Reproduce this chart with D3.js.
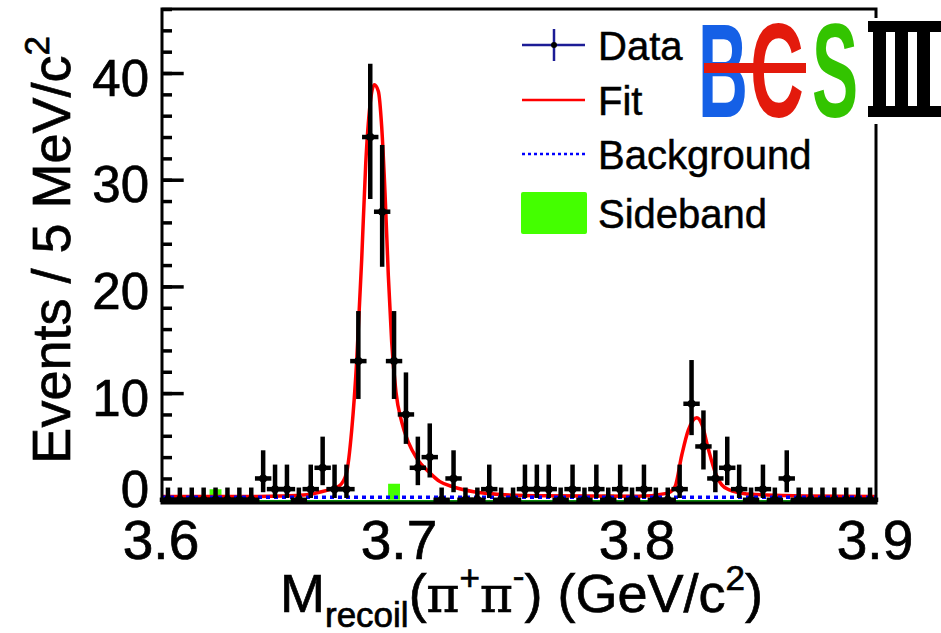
<!DOCTYPE html>
<html><head><meta charset="utf-8">
<script src="https://cdn.jsdelivr.net/npm/d3@7"></script>
<style>
body{margin:0;background:#fff}
svg{display:block}
text{font-family:"Liberation Sans",Arial,Helvetica,sans-serif;fill:#000}
.heavy{stroke:#000;stroke-width:0.7px}
</style>
</head><body>
<svg id="chart" width="941" height="633"></svg>
<script>
// ---------------- data ----------------
const massRange = [3.6, 3.9];          // GeV/c^2
const binWidth = 0.005;                // 5 MeV bins
// events per 5 MeV bin, 60 bins from 3.600 to 3.900
const counts = [
  0,0,0,0,0,0,0,0,2,1,
  1,0,1,3,1,1,13,34,27,13,
  8,3,4,0,2,0,0,1,0,0,
  1,1,1,0,1,0,1,0,1,0,
  1,0,0,1,9,5,2,3,1,0,
  1,0,2,0,0,0,0,0,0,0
];
// sideband histogram (scaled), same binning
const sideband = [
  0,0,0,0,1.0,0,0,0,0,0,
  0,0,0,0,0,0,0,0,0,1.5,
  0,0,0,0,0,0,0,0,0,0,
  0,0,0,0,0,0,0,0.5,0,0,
  0,0,0,0,0,0,0,0,0,0,
  0,0,0,0,0,0,0,0,0,0
];
// 68% Poisson intervals (lower, upper bound) by observed count
const poissonLow  = {0:0,    1:0.17, 2:0.71, 3:1.37, 4:2.09, 5:2.84, 8:5.24,  9:6.06,  13:9.45,  27:21.84, 34:28.20};
const poissonHigh = {0:1.15, 1:3.30, 2:4.64, 3:5.92, 4:7.16, 5:8.38, 8:11.94, 9:13.10, 13:17.69, 27:33.26, 34:40.88};
// fit curve
const fitMass  = [3.600,3.640,3.650,3.658,3.663,3.667,3.671,3.6745,3.6775,3.6797,3.6818,3.6839,3.6856,3.6874,3.6892,3.6909,3.6923,3.6937,3.6951,3.6965,3.6983,3.7007,3.7035,3.7070,3.7126,3.7168,3.7225,3.7310,3.7420,3.7600,3.8000,3.8121,3.8155,3.8184,3.8211,3.8247,3.8268,3.8295,3.8324,3.8352,3.8387,3.8443,3.8541,3.8700,3.9000];
const fitValue = [0.30, 0.32, 0.35, 0.42, 0.55, 0.75, 1.00, 1.30, 2.50, 6.50, 13.0, 22.5, 31.5, 37.0, 38.9, 38.3, 35.0, 28.8, 21.0, 14.8, 10.1, 7.3, 5.4, 3.9, 2.5, 1.7, 1.2, 0.75, 0.50, 0.38, 0.33, 0.60, 1.20, 4.20, 6.50, 7.70, 7.10, 4.80, 2.60, 1.40, 0.90, 0.60, 0.45, 0.35, 0.30];
// background component
const bkgMass  = [3.600, 3.900];
const bkgValue = [0.25, 0.25];
// axes
const yTicks = [0, 10, 20, 30, 40];
const yMinorTicks = [0,2,4,6,8,10,12,14,16,18,20,22,24,26,28,30,32,34,36,38,40,42,44,46];
const xTicks = [3.6, 3.7, 3.8, 3.9];
const legendLabels = ["Data", "Fit", "Background", "Sideband"];

// ---------------- drawing ----------------
const svg = d3.select("#chart");
const L = 162, T = 9, R = 876, B = 503;
const x = d3.scaleLinear().domain(massRange).range([L, R]);
const y = d3.scaleLinear().domain([-0.3, 46]).range([B, T]);

svg.append("rect").attr("width", 941).attr("height", 633).attr("fill", "#fff");

// sideband histogram (step area)
const edges = counts.map((_, i) => massRange[0] + i * binWidth);
const sbPts = sideband.map((v, i) => [edges[i], v]).concat([[massRange[1], sideband[sideband.length - 1]]]);
svg.append("path")
  .datum(sbPts)
  .attr("d", d3.area().curve(d3.curveStepAfter).x(d => x(d[0])).y0(y(0)).y1(d => y(d[1])))
  .attr("fill", "#44ff00");
svg.append("line")
  .attr("x1", x(massRange[0])).attr("x2", x(massRange[1]))
  .attr("y1", y(0) + 1.5).attr("y2", y(0) + 1.5)
  .attr("stroke", "#0a8a0a").attr("stroke-width", 2.5);

// fit curve
svg.append("path")
  .datum(fitMass.map((m, i) => [m, fitValue[i]]))
  .attr("d", d3.line().curve(d3.curveMonotoneX).x(d => x(d[0])).y(d => y(d[1])))
  .attr("fill", "none").attr("stroke", "#ff0000").attr("stroke-width", 3.5);

// background (dotted)
svg.append("path")
  .datum(bkgMass.map((m, i) => [m, bkgValue[i]]))
  .attr("d", d3.line().x(d => x(d[0])).y(d => y(d[1])))
  .attr("fill", "none").attr("stroke", "#0000ff").attr("stroke-width", 3.5)
  .attr("stroke-dasharray", "4,4");

// data points with error bars
const pts = counts.map((n, i) => ({m: edges[i] + binWidth / 2, n}));
const gData = svg.append("g");
gData.selectAll("line.v").data(pts).join("line").attr("class", "v")
  .attr("x1", d => x(d.m)).attr("x2", d => x(d.m))
  .attr("y1", d => y(poissonLow[d.n])).attr("y2", d => y(poissonHigh[d.n]))
  .attr("stroke", "#000").attr("stroke-width", 4.5);
gData.selectAll("line.h").data(pts).join("line").attr("class", "h")
  .attr("x1", d => x(d.m - binWidth / 2)).attr("x2", d => x(d.m + binWidth / 2))
  .attr("y1", d => y(d.n)).attr("y2", d => y(d.n))
  .attr("stroke", "#000").attr("stroke-width", 4.5).attr("stroke-linecap", "square");
gData.selectAll("circle").data(pts).join("circle")
  .attr("cx", d => x(d.m)).attr("cy", d => y(d.n)).attr("r", 4).attr("fill", "#000");

// y axis ticks (pointing inward)
const yAxisMinor = d3.axisLeft(y).tickValues(yMinorTicks).tickSizeInner(-10).tickSizeOuter(0).tickFormat("");
const gyMinor = svg.append("g").attr("transform", `translate(${L},0)`).call(yAxisMinor);
gyMinor.select(".domain").remove();
gyMinor.selectAll("line").attr("stroke", "#000").attr("stroke-width", 3.5);

const yAxis = d3.axisLeft(y).tickValues(yTicks).tickSizeInner(-21.7).tickSizeOuter(0).tickPadding(13).tickFormat(d3.format("d"));
const gy = svg.append("g").attr("transform", `translate(${L},0)`).call(yAxis);
gy.select(".domain").remove();
gy.selectAll("line").attr("stroke", "#000").attr("stroke-width", 3.5);
gy.selectAll("text")
  .attr("class", "heavy")
  .attr("font-family", "Liberation Sans, Arial, sans-serif")
  .attr("font-size", 51).attr("fill", "#000")
  .attr("dy", null)
  .attr("y", d => Math.min(22, 506 - y(d)));

// x axis labels
const xAxis = d3.axisBottom(x).tickValues(xTicks).tickSize(0).tickPadding(17).tickFormat(d3.format(".1f"));
const gx = svg.append("g").attr("transform", `translate(0,${B})`).call(xAxis);
gx.select(".domain").remove();
gx.selectAll("text").attr("class", "heavy").attr("font-family", "Liberation Sans, Arial, sans-serif")
  .attr("font-size", 55).attr("fill", "#000").attr("dx", -1.5);

// frame
svg.append("rect").attr("x", L).attr("y", T).attr("width", R - L).attr("height", B - T)
  .attr("fill", "none").attr("stroke", "#000").attr("stroke-width", 3);

// axis titles
const xt = svg.append("text").attr("class", "heavy").attr("x", 280).attr("y", 612).attr("font-size", 54);
xt.append("tspan").text("M");
xt.append("tspan").attr("font-size", 35).attr("dy", 15).text("recoil");
xt.append("tspan").attr("dy", -15).text("(");
xt.append("tspan").attr("font-family", "DejaVu Serif, Liberation Serif, serif").attr("font-size", 50).text("π");
xt.append("tspan").attr("font-size", 35).attr("dy", -22).text("+");
xt.append("tspan").attr("dy", 22).attr("font-family", "DejaVu Serif, Liberation Serif, serif").attr("font-size", 50).text("π");
xt.append("tspan").attr("font-size", 35).attr("dy", -24).text("-");
xt.append("tspan").attr("dy", 24).text(") (GeV/c");
xt.append("tspan").attr("font-size", 35).attr("dy", -22).text("2");
xt.append("tspan").attr("dy", 22).text(")");

const yt = svg.append("text").attr("class", "heavy").attr("transform", "translate(70,36) rotate(-90)")
  .attr("text-anchor", "end").attr("font-size", 54);
yt.append("tspan").text("Events / 5 MeV/c");
yt.append("tspan").attr("font-size", 35).attr("dy", -21).text("2");

// legend
const legY = [45, 100, 154, 213];
const gl = svg.append("g");
gl.append("line").attr("x1", 522).attr("x2", 585).attr("y1", legY[0]).attr("y2", legY[0]).attr("stroke", "#1c1c96").attr("stroke-width", 2.5);
gl.append("line").attr("x1", 554).attr("x2", 554).attr("y1", legY[0] - 16).attr("y2", legY[0] + 16).attr("stroke", "#1c1c96").attr("stroke-width", 2.5);
gl.append("circle").attr("cx", 554).attr("cy", legY[0]).attr("r", 3).attr("fill", "#000");
gl.append("line").attr("x1", 522).attr("x2", 585).attr("y1", legY[1]).attr("y2", legY[1]).attr("stroke", "#ff0000").attr("stroke-width", 2.5);
gl.append("line").attr("x1", 522).attr("x2", 585).attr("y1", legY[2]).attr("y2", legY[2]).attr("stroke", "#0000ff").attr("stroke-width", 2.5).attr("stroke-dasharray", "3,3");
gl.append("rect").attr("x", 521).attr("y", legY[3] - 21).attr("width", 66).attr("height", 42).attr("rx", 2).attr("fill", "#44ff00");
gl.selectAll("text").data(legendLabels).join("text")
  .attr("class", "heavy").style("stroke-width", "0.5px")
  .attr("x", 598).attr("y", (d, i) => legY[i] + 14.5)
  .attr("font-size", 40).text(d => d);

// BESIII logo
const gLogo = svg.append("g");
gLogo.append("rect").attr("x", 700).attr("y", 18).attr("width", 241).attr("height", 106).attr("fill", "#fff");
function logoLetter(ch, x0, sx, color) {
  gLogo.append("text")
    .attr("transform", `translate(${x0},117) scale(${sx},1)`)
    .attr("font-family", "DejaVu Sans, sans-serif").attr("font-weight", "bold")
    .attr("font-size", 133).style("fill", color).text(ch);
}
logoLetter("B", 698, 0.52, "#1560e6");
logoLetter("C", 750, 0.56, "#e31a0c");
gLogo.append("rect").attr("x", 704).attr("y", 63).attr("width", 102).attr("height", 10).attr("fill", "#e31a0c");
logoLetter("S", 812, 0.52, "#33c400");
gLogo.append("rect").attr("x", 868).attr("y", 21).attr("width", 80).attr("height", 11).attr("fill", "#000");
gLogo.append("rect").attr("x", 868).attr("y", 106).attr("width", 80).attr("height", 11).attr("fill", "#000");
[873, 895, 917].forEach(xx => gLogo.append("rect").attr("x", xx).attr("y", 21).attr("width", 13).attr("height", 96).attr("fill", "#000"));
</script>
</body></html>
